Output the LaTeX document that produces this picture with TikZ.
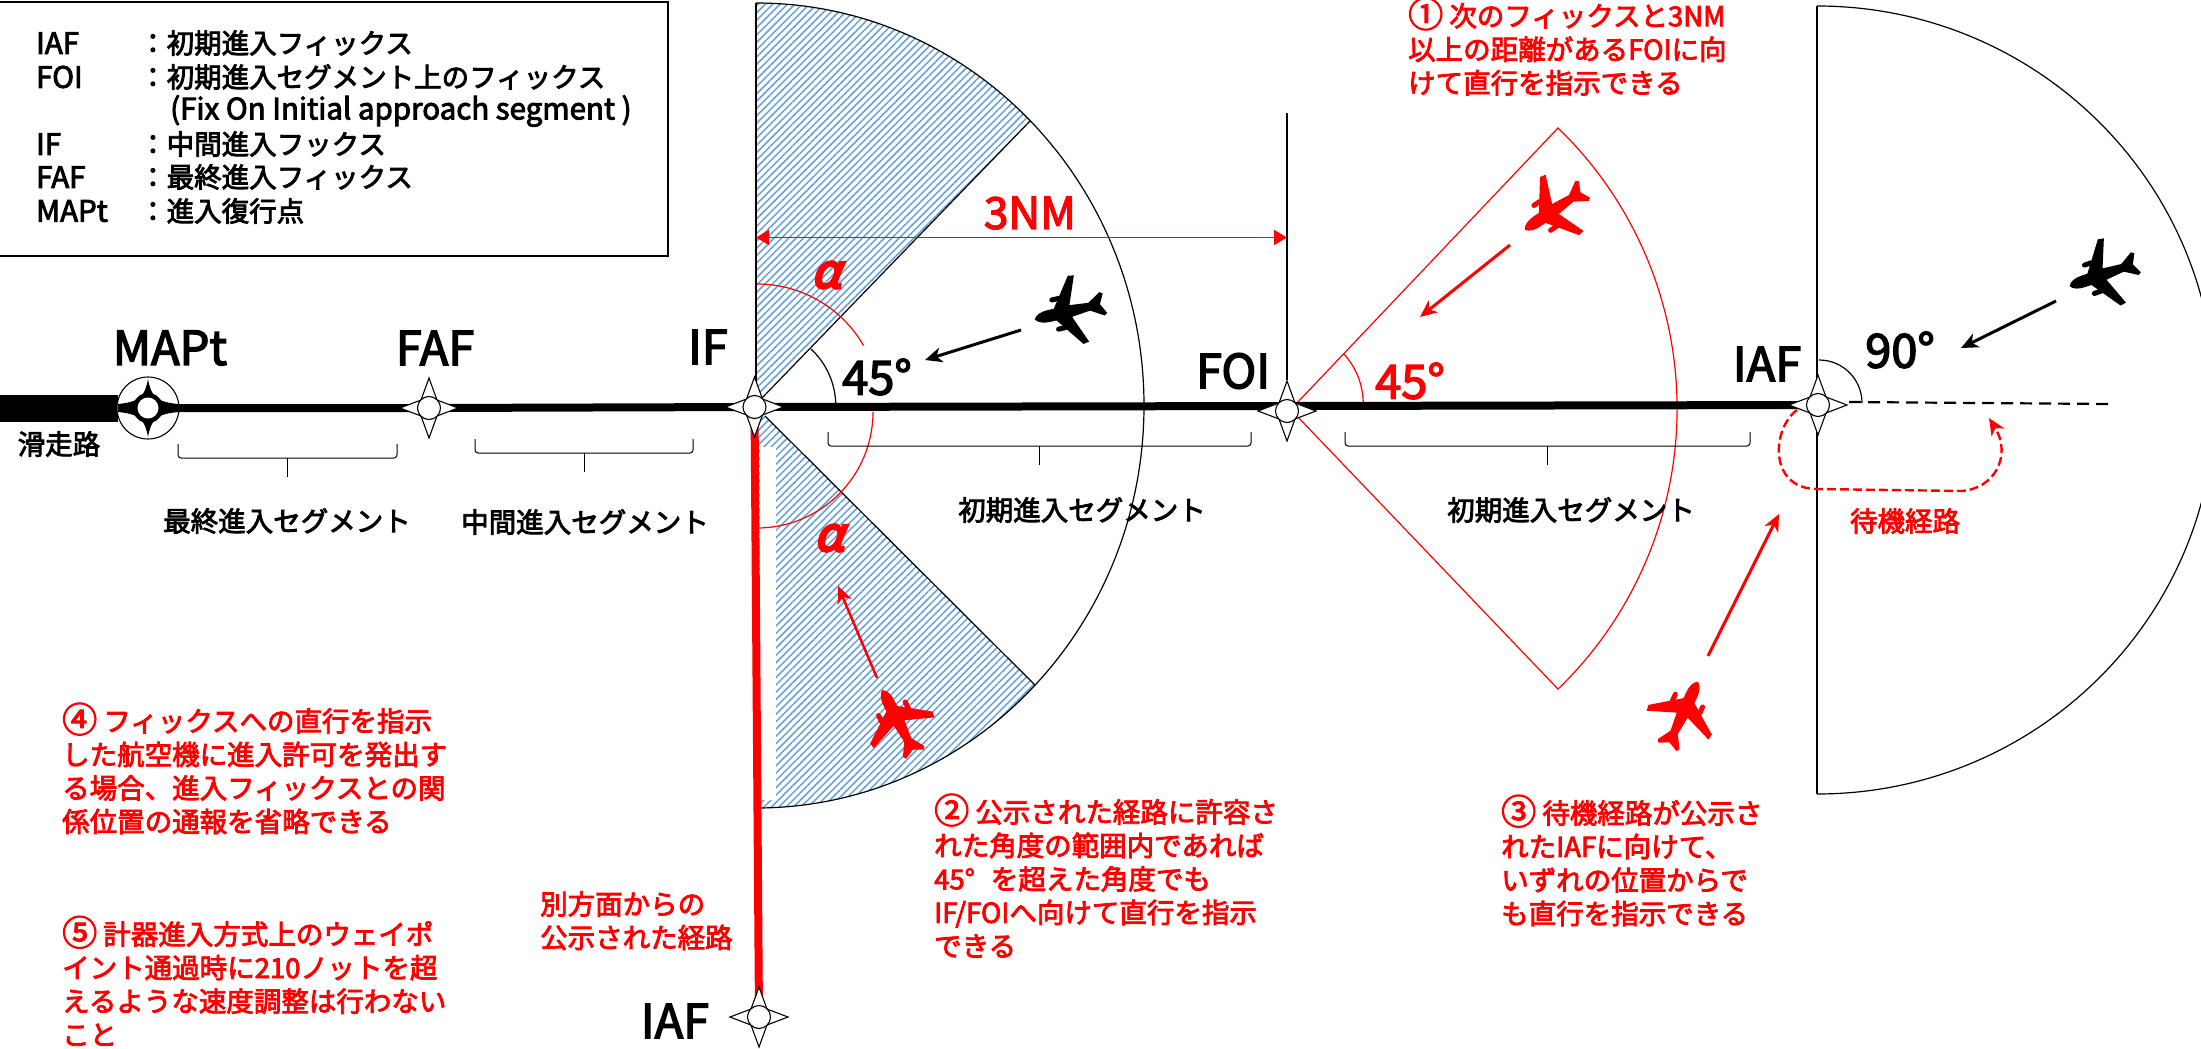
\documentclass[tikz,border=0pt]{standalone}
\usepackage{fontspec}
\setmainfont{Noto Sans CJK JP}[FakeBold=3]
\newfontface\alphaface{Noto Sans CJK JP}[FakeSlant=0.25,FakeBold=6]
\usetikzlibrary{arrows.meta,patterns.meta}
\definecolor{hatchblue}{RGB}{100,160,215}
\newcommand{\cnum}[1]{{\fontsize{35}{33.5}\selectfont\smash{\raisebox{-1pt}{#1}}}}
\tikzset{
  txt/.style={inner sep=0pt,font=\fontsize{27.5}{33.5}\selectfont},
  notered/.style={txt,red,anchor=north west,align=left},
  fixname/.style={inner sep=0pt,font=\fontsize{47}{50}\selectfont},
  thin line/.style={line width=1.2pt},
  fly/.style={line width=3pt,-{Stealth[length=17pt,width=15pt,inset=5pt]}},
  hatched/.style={pattern={Lines[angle=45,distance=5.2pt,line width=1.5pt]},pattern color=hatchblue},
  pics/fix/.style={code={
    \draw[fill=white,line width=1.1pt] (0,-30) -- (8,-8) -- (29,0) -- (8,8) -- (0,30) -- (-8,8) -- (-29,0) -- (-8,-8) -- cycle;
    \draw[fill=white,line width=1.1pt] (0,0) circle (11.5pt);
  }},
  pics/mapfix/.style={code={
    \fill (0,-29) .. controls (3,-12) and (8,-6) .. (30,-4) -- (30,4) .. controls (8,6) and (3,12) .. (0,29)
      .. controls (-3,12) and (-8,6) .. (-30,4) -- (-30,-4) .. controls (-8,-6) and (-3,-12) .. (0,-29);
    \fill (0,0) circle (15pt);
    \fill[white] (0,0) circle (10.5pt);
  }},
  pics/aircraft/.style={code={
    \fill[pic actions] (28,0) .. controls (26,4) and (20,6) .. (14,6) -- (7,6) -- (-14,35) -- (-20,34) -- (-9,6)
      -- (-28,4) -- (-41,12) -- (-44,10) -- (-39,0) -- (-44,-10) -- (-41,-12) -- (-28,-4)
      -- (-9,-6) -- (-20,-34) -- (-14,-35) -- (7,-6) -- (14,-6) .. controls (20,-6) and (26,-4) .. (28,0);
    \draw[pic actions,line width=5pt,line cap=round] (7,15) -- (0,15) (7,-15) -- (0,-15);
  }}
}
\begin{document}
\begin{tikzpicture}[x=1pt,y=-1pt]
\useasboundingbox (0,0) rectangle (2201,1049);
\begin{scope}
\clip (0,0) rectangle (2201,1049);

% fixes on the route
\coordinate (MAPt) at (148,408);
\coordinate (FAF) at (429,408);
\coordinate (IF) at (754.5,407);
\coordinate (FOI) at (1287,411);
\coordinate (IAF) at (1818,405);
\coordinate (IAFb) at (759,1017);

% hatched sectors
\fill[hatched] (756,400) -- (756,3) arc[start angle=90,end angle=45,x radius=388pt,y radius=402.5pt] -- cycle;
\fill[hatched] (756,808) arc[start angle=-90,end angle=-44,x radius=388pt,y radius=402.5pt] -- (765,416) -- (756,416) -- cycle;
\fill[white] (760,447) rectangle (776,800);

% arcs of the sectors
\draw[thin line] (756,3) arc[start angle=90,end angle=-90,x radius=388pt,y radius=402.5pt];
\draw[thin line] (756,3) -- (756,400);
\draw[thin line] (762,398) -- (1030,121);
\draw[thin line] (765,416) -- (1035,685);
\draw[thin line] (1817,6) -- (1817,794);
\draw[thin line] (1817,6) arc[start angle=90,end angle=-90,x radius=398pt,y radius=394pt];
\draw[thin line] (1287,113) -- (1287,380);

% red sector at the FOI
\draw[red,thin line] (1296,404) -- (1558,128) arc[start angle=46,end angle=-46,x radius=390pt,y radius=390pt] -- (1296,415);
\draw[red,thin line] (1344,354) arc[start angle=42,end angle=0,x radius=75pt,y radius=75pt];
\draw[red,thin line] (757,284) arc[start angle=90,end angle=30,radius=123pt];
\draw[red,thin line] (873,412) arc[start angle=0,end angle=-90,radius=116pt];
\draw[thin line] (811,349) arc[start angle=47,end angle=0,radius=78pt];
\draw[thin line] (1819,360) arc[start angle=90,end angle=0,radius=43pt];

% route
\fill (0,395) rectangle (118,421.5);
\draw[fill=white,line width=1.1pt] (MAPt) circle (31pt);
\draw[red,line width=8pt] (IF) -- (IAFb);
\draw[line width=8pt] (MAPt) -- (FAF) -- (IF) -- (IAF);
\draw[line width=2.2pt,dash pattern=on 12pt off 7pt] (IAF) ++(31,-3) coordinate (hold) -- (2109,404);
\draw[red,line width=2.4pt,dash pattern=on 9pt off 4pt,-{Stealth[length=17pt,width=15pt,inset=5pt]}] (1797,410) .. controls (1772,428) and (1768,488) .. (1816,489) -- (1961,491) .. controls (1995,489) and (2012,455) .. (1989,418);

\pic at (MAPt) {mapfix};
\pic at (FAF) {fix};
\pic at (IF) {fix};
\pic at (FOI) {fix};
\pic at (IAF) {fix};
\pic at (IAFb) {fix};

% segment braces
\foreach \xa/\xb/\ytop in {178/397/444,475/693/439,828/1251/432,1345/1750/432}{
  \pgfmathsetmacro{\xm}{(\xa+\xb)/2}
  \draw[line width=1pt,rounded corners=3pt] (\xa,\ytop) -- (\xa,\ytop+14) -- (\xb,\ytop+14) -- (\xb,\ytop);
  \draw[line width=1pt] (\xm,\ytop+14) -- (\xm,\ytop+33);
}

% dimension
\coordinate (dimA) at (756,237.5);
\coordinate (dimB) at (1287,237.5);
\draw[red,line width=1.6pt,{Triangle[length=13pt,width=15pt]}-{Triangle[length=13pt,width=15pt]}] (dimA) -- (dimB);

% aircraft and their tracks
\pic[rotate=193] at (1062,313) {aircraft};
\pic[red,rotate=214] at (1548,214) {aircraft};
\pic[rotate=199] at (2096,277) {aircraft};
\pic[red,rotate=117] at (895,715) {aircraft};
\pic[red,rotate=65] at (1686,707) {aircraft};
\coordinate (trkA) at (1021,330); \coordinate (trkAe) at (925,360);
\coordinate (trkB) at (1510,245); \coordinate (trkBe) at (1420,317);
\coordinate (trkC) at (2056,301); \coordinate (trkCe) at (1961,348);
\coordinate (trkD) at (877,678); \coordinate (trkDe) at (838,586);
\coordinate (trkE) at (1708,656); \coordinate (trkEe) at (1779,514);
\draw[fly] (trkA) -- (trkAe);
\draw[fly,red] (trkB) -- (trkBe);
\draw[fly] (trkC) -- (trkCe);
\draw[fly,red,line width=2.5pt] (trkD) -- (trkDe);
\draw[fly,red] (trkE) -- (trkEe);
\end{scope}

% legend
\draw[line width=2.4pt] (0,2) -- (668,2) -- (668,256) -- (0,256);
\foreach \nm/\abbr/\desc/\yy in {a/IAF/初期進入フィックス/43,b/FOI/初期進入セグメント上のフィックス/77,c/IF/中間進入フックス/144,d/FAF/最終進入フィックス/177,e/MAPt/進入復行点/211}{
  \node[txt,anchor=west,font=\fontsize{29.5}{33.5}\selectfont] (abbr\nm) at (36,\yy) {\abbr};
  \node[txt,anchor=west] (desc\nm) at (139,\yy) {：\desc};
}
\node[txt,anchor=west,font=\fontsize{29.5}{33.5}\selectfont] (foiname) at (170,111) {(Fix On Initial approach segment )};

% fix names
\node[fixname] (lbMAPt) at (170,348) {MAPt};
\node[fixname] (lbFAF) at (435,348) {FAF};
\node[fixname] (lbIF) at (708,347) {IF};
\node[fixname] (lbFOI) at (1233,371) {FOI};
\node[fixname] (lbIAF) at (1767,364) {IAF};
\node[fixname] (lbIAFb) at (675,1021) {IAF};
\node[fixname] (lb45) at (877,377) {45°};
\node[fixname] (lb90) at (1900,350) {90°};
\node[fixname,red] (lb45r) at (1410,381) {45°};
\node[fixname,red,font=\fontsize{44}{50}\selectfont] (lb3NM) at (1030,213) {3NM};
\node[fixname,red,font=\alphaface\fontsize{47}{50}\selectfont] (lbalphaA) at (826,275) {α};
\node[fixname,red,font=\alphaface\fontsize{47}{50}\selectfont] (lbalphaB) at (829,538) {α};

% segment names
\node[txt] (segFinal) at (287,521) {最終進入セグメント};
\node[txt] (segInter) at (585,522) {中間進入セグメント};
\node[txt] (segInitA) at (1082,510) {初期進入セグメント};
\node[txt] (segInitB) at (1571,510) {初期進入セグメント};
\node[txt] (runway) at (59,444) {滑走路};
\node[txt,red] (holding) at (1905,521) {待機経路};

% notes
\node[notered] (noteA) at (1408,3) {\cnum{①} 次のフィックスと3NM\\以上の距離があるFOIに向\\けて直行を指示できる};
\node[notered] (noteB) at (934,799) {\cnum{②} 公示された経路に許容さ\\れた角度の範囲内であれば\\45°\hspace{16pt}を超えた角度でも\\IF/FOIへ向けて直行を指示\\できる};
\node[notered] (noteC) at (1501,800) {\cnum{③} 待機経路が公示さ\\れたIAFに向けて、\\いずれの位置からで\\も直行を指示できる};
\node[notered] (noteD) at (62,708) {\cnum{④} フィックスへの直行を指示\\した航空機に進入許可を発出す\\る場合、進入フィックスとの関\\係位置の通報を省略できる};
\node[notered] (noteE) at (62,921) {\cnum{⑤} 計器進入方式上のウェイポ\\イント通過時に210ノットを超\\えるような速度調整は行わない\\こと};
\node[notered] (noteF) at (540,891) {別方面からの\\公示された経路};
\end{tikzpicture}
\end{document}
